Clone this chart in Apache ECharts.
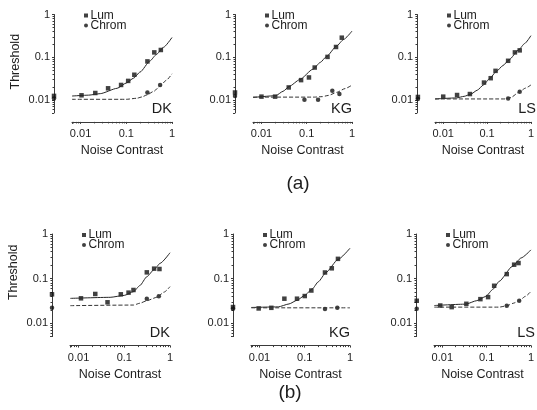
<!DOCTYPE html>
<html>
<head>
<meta charset="utf-8">
<script src="https://cdn.jsdelivr.net/npm/echarts@6/dist/echarts.min.js"></script>
<style>
  html, body { margin: 0; padding: 0; background: #fff; }
  #chart { width: 537px; height: 410px; }
</style>
</head>
<body>
<div id="chart"></div>
<script>
// Detection thresholds for luminance (Lum) and chromatic (Chrom) targets
// as a function of noise contrast, three observers, two conditions (a)/(b).
// Every list below has one entry per panel, in reading order.
const panelNames = ['DK', 'KG', 'LS', 'DK', 'KG', 'LS'];
const rowCaptions = ['(a)', '(b)'];

const lumNoise = [
  [0.0105, 0.021, 0.040, 0.077, 0.11, 0.15, 0.29, 0.41, 0.57],
  [0.010, 0.020, 0.040, 0.075, 0.112, 0.150, 0.288, 0.444, 0.595],
  [0.010, 0.0207, 0.0406, 0.0851, 0.121, 0.156, 0.302, 0.431, 0.554],
  [0.0113, 0.0232, 0.043, 0.084, 0.124, 0.159, 0.311, 0.450, 0.588],
  [0.0096, 0.0183, 0.0355, 0.0675, 0.100, 0.140, 0.280, 0.396, 0.542],
  [0.009, 0.0163, 0.0349, 0.0724, 0.108, 0.148, 0.285, 0.418, 0.524]
];
const lumThreshold = [
  [0.0129, 0.0146, 0.0188, 0.0225, 0.028, 0.039, 0.080, 0.13, 0.148],
  [0.0120, 0.0120, 0.0197, 0.0292, 0.0337, 0.0575, 0.102, 0.174, 0.287],
  [0.0120, 0.0131, 0.0138, 0.0256, 0.0324, 0.0481, 0.0827, 0.130, 0.145],
  [0.0361, 0.0452, 0.0294, 0.0444, 0.0484, 0.0555, 0.138, 0.167, 0.164],
  [0.0214, 0.0221, 0.0354, 0.0354, 0.0406, 0.054, 0.137, 0.170, 0.277],
  [0.0249, 0.0229, 0.0272, 0.0346, 0.0384, 0.069, 0.126, 0.205, 0.223]
];
const chromNoise = [
  [0.29, 0.55],
  [0.089, 0.178, 0.367, 0.527],
  [0.302, 0.554],
  [0.311, 0.569],
  [0.280, 0.524],
  [0.285, 0.543]
];
const chromThreshold = [
  [0.0149, 0.0225],
  [0.0102, 0.0102, 0.0165, 0.0138],
  [0.0109, 0.0157],
  [0.0355, 0.040],
  [0.0207, 0.0221],
  [0.0245, 0.0318]
];
// thresholds measured without noise, drawn on the threshold axis
const zeroNoiseLum = [0.0125, 0.0150, 0.0118, 0.0444, 0.0230, 0.0318];
const zeroNoiseChrom = [0.0108, 0.0125, 0.0106, 0.0223, 0.0212, 0.0210];

// fitted model curves
const lumFitNoise = [
  [0.0065, 0.015, 0.027, 0.063, 0.1, 0.144, 0.2, 0.333, 0.45, 0.648, 1],
  [0.0065, 0.0206, 0.03, 0.041, 0.07, 0.137, 0.2, 0.273, 0.459, 0.65, 1],
  [0.0065, 0.02, 0.03, 0.042, 0.06, 0.0824, 0.115, 0.162, 0.23, 0.318, 0.527, 0.72, 1],
  [0.0066, 0.049, 0.1, 0.159, 0.22, 0.311, 0.45, 0.608, 1],
  [0.0066, 0.026, 0.045, 0.0675, 0.1, 0.147, 0.2, 0.295, 0.542, 1],
  [0.0066, 0.0337, 0.06, 0.0955, 0.14, 0.191, 0.381, 0.6, 1]
];
const lumFitThreshold = [
  [0.0124, 0.0130, 0.0141, 0.0188, 0.025, 0.0324, 0.045, 0.0827, 0.115, 0.17, 0.29],
  [0.0115, 0.0126, 0.016, 0.0208, 0.030, 0.0526, 0.076, 0.104, 0.184, 0.26, 0.41],
  [0.0106, 0.0112, 0.0122, 0.0136, 0.017, 0.0225, 0.032, 0.0464, 0.064, 0.0873, 0.150, 0.21, 0.32],
  [0.036, 0.038, 0.042, 0.051, 0.070, 0.110, 0.16, 0.22, 0.38],
  [0.0225, 0.0232, 0.027, 0.0326, 0.042, 0.0588, 0.085, 0.137, 0.268, 0.48],
  [0.0249, 0.0267, 0.032, 0.0397, 0.058, 0.0864, 0.188, 0.29, 0.44]
];
const chromFitNoise = [
  [0.0065, 0.1, 0.17, 0.22, 0.28, 0.4, 0.55, 0.75, 1],
  [0.0065, 0.15, 0.22, 0.3, 0.46, 0.7, 1],
  [0.0065, 0.26, 0.35, 0.554, 0.75, 1],
  [0.0066, 0.159, 0.22, 0.311, 0.514, 0.75, 1],
  [0.0066, 1],
  [0.0066, 0.191, 0.285, 0.4, 0.543, 0.75, 1]
];
const chromFitThreshold = [
  [0.0104, 0.0104, 0.0110, 0.0118, 0.0131, 0.016, 0.0213, 0.029, 0.041],
  [0.0117, 0.0117, 0.0120, 0.0128, 0.0151, 0.0185, 0.0223],
  [0.0106, 0.0106, 0.0115, 0.0157, 0.019, 0.0225],
  [0.0247, 0.0255, 0.028, 0.032, 0.038, 0.050, 0.066],
  [0.0221, 0.0221],
  [0.0229, 0.0229, 0.0245, 0.028, 0.0318, 0.040, 0.0515]
];

// axis ranges
const X_MIN = 0.0065, X_MAX = 1;
const Y_MIN = 0.005, Y_MAX = 1;

// panel geometry (px)
const gridLeft = [72, 253, 435, 70, 251, 434];
const gridWidth = [100, 99, 101, 100, 99, 101];
const gridTop = [14.5, 14.5, 14.5, 234, 234, 234];
const gridHeight = [98.4, 98.4, 98.4, 102.6, 102.6, 102.6];
const titleShift = [4, 0, 0, 26, 0, 0];
const Y_AXIS_OFFSET = 18;
const X_AXIS_OFFSET = 9;

const FONT = '"Liberation Sans", Arial, Helvetica, sans-serif';
const INK = '#1d1d1d';
const AXIS_INK = '#3a3a3a';

const zip = (xs, ys) => xs.map((x, k) => [x, ys[k]]);

// the noise-free thresholds sit on the detached threshold axis line
function axisLineNoise(i) {
  const decades = Math.log10(X_MAX / X_MIN);
  return X_MIN * Math.pow(10, -Y_AXIS_OFFSET * decades / gridWidth[i]);
}

const grid = [], xAxis = [], yAxis = [], series = [], legend = [], graphic = [];

panelNames.forEach((name, i) => {
  const col = i % 3;
  grid.push({ left: gridLeft[i], top: gridTop[i], width: gridWidth[i], height: gridHeight[i] });

  const axisCommon = {
    gridIndex: i,
    type: 'log',
    axisLine: { show: true, lineStyle: { color: AXIS_INK, width: 1 } },
    axisTick: { show: true, length: 2, lineStyle: { color: AXIS_INK } },
    minorTick: { show: true, splitNumber: 9, length: 1.5, lineStyle: { color: AXIS_INK } },
    splitLine: { show: false },
    minorSplitLine: { show: false }
  };

  xAxis.push(Object.assign({}, axisCommon, {
    min: X_MIN, max: X_MAX,
    position: 'bottom',
    offset: X_AXIS_OFFSET,
    axisLabel: { showMinLabel: false, margin: 7, fontSize: 11, color: INK, fontFamily: FONT },
    name: 'Noise Contrast',
    nameLocation: 'middle',
    nameGap: 22,
    nameTextStyle: { fontSize: 12.5, color: INK, fontFamily: FONT }
  }));

  yAxis.push(Object.assign({}, axisCommon, {
    min: Y_MIN, max: Y_MAX,
    position: 'left',
    offset: Y_AXIS_OFFSET,
    axisLabel: { showMinLabel: false, margin: 4, fontSize: 11, color: INK, fontFamily: FONT },
    name: col === 0 ? 'Threshold' : '',
    nameLocation: 'middle',
    nameGap: 32,
    nameTextStyle: { fontSize: 12.5, color: INK, fontFamily: FONT, padding: [0, 0, 0, titleShift[i]] }
  }));

  series.push({
    type: 'line', name: 'Lum fit', xAxisIndex: i, yAxisIndex: i,
    data: zip(lumFitNoise[i], lumFitThreshold[i]),
    showSymbol: false, smooth: 0.2, smoothMonotone: 'x', silent: true,
    lineStyle: { color: '#262626', width: 1 }
  });
  series.push({
    type: 'line', name: 'Chrom fit', xAxisIndex: i, yAxisIndex: i,
    data: zip(chromFitNoise[i], chromFitThreshold[i]),
    showSymbol: false, smooth: 0.2, smoothMonotone: 'x', silent: true,
    lineStyle: { color: '#333', width: 1, type: [4, 2] }
  });
  series.push({
    type: 'scatter', name: 'Lum', xAxisIndex: i, yAxisIndex: i,
    symbol: 'rect', symbolSize: 4.5, clip: false,
    itemStyle: { color: '#111' },
    data: zip(lumNoise[i], lumThreshold[i]).concat([[axisLineNoise(i), zeroNoiseLum[i]]])
  });
  series.push({
    type: 'scatter', name: 'Chrom', xAxisIndex: i, yAxisIndex: i,
    symbol: 'circle', symbolSize: 4.5, clip: false,
    itemStyle: { color: '#111' },
    data: zip(chromNoise[i], chromThreshold[i]).concat([[axisLineNoise(i), zeroNoiseChrom[i]]])
  });

  legend.push({
    data: ['Lum', 'Chrom'],
    orient: 'vertical',
    left: gridLeft[i] + 12,
    top: gridTop[i] - 5,
    padding: 0,
    itemWidth: 4, itemHeight: 4, itemGap: -2,
    selectedMode: false,
    textStyle: { fontSize: 12, lineHeight: 11, color: INK, fontFamily: FONT, padding: [0, 0, 0, -2.5] }
  });

  graphic.push({
    type: 'text',
    x: gridLeft[i] + gridWidth[i],
    y: gridTop[i] + gridHeight[i] - 4,
    style: { text: name, fill: INK, font: '14.5px ' + FONT, textAlign: 'right', textVerticalAlign: 'middle' }
  });
});

graphic.push({
  type: 'text', x: 298, y: 184,
  style: { text: rowCaptions[0], fill: INK, font: '19px ' + FONT, textAlign: 'center', textVerticalAlign: 'middle' }
});
graphic.push({
  type: 'text', x: 290, y: 393,
  style: { text: rowCaptions[1], fill: INK, font: '19px ' + FONT, textAlign: 'center', textVerticalAlign: 'middle' }
});

const chart = echarts.init(document.getElementById('chart'), null, { renderer: 'canvas' });
chart.setOption({
  animation: false,
  backgroundColor: '#fff',
  textStyle: { fontFamily: FONT },
  grid, xAxis, yAxis, series, legend, graphic
});
</script>
</body>
</html>
